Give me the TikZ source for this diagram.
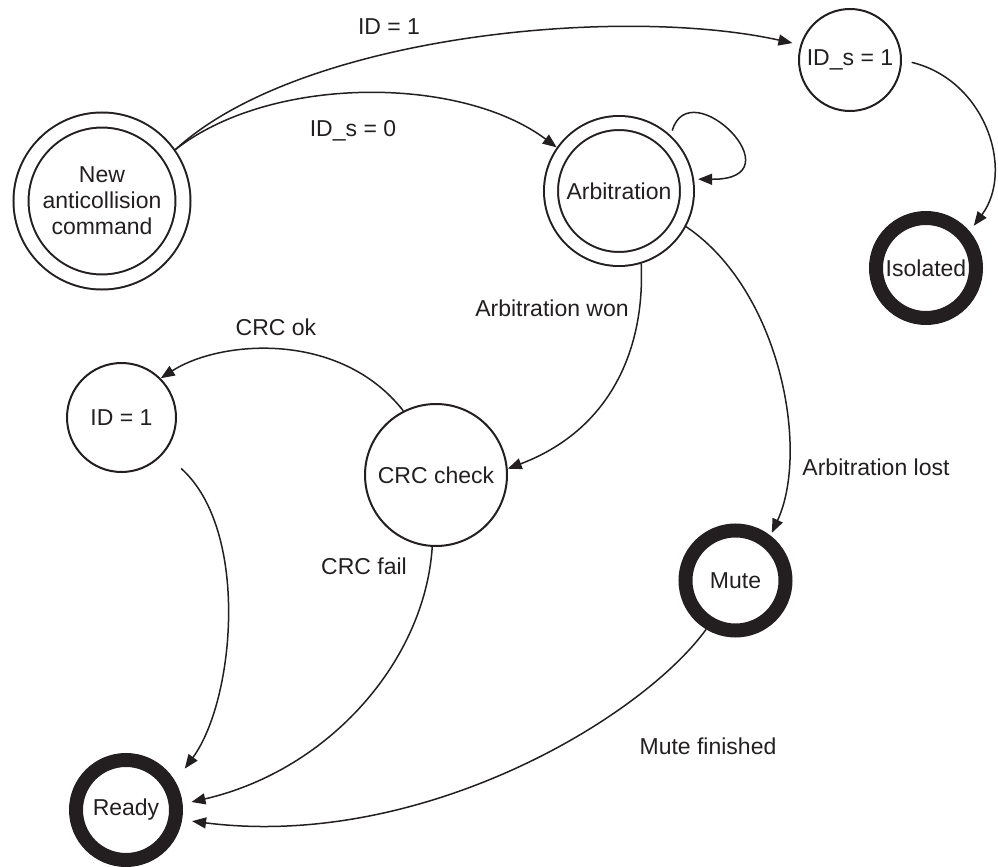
\documentclass[tikz,border=0pt]{standalone}
\usepackage{fontspec}
\setmainfont{Liberation Sans}
\usetikzlibrary{arrows.meta}
\definecolor{ink}{RGB}{35,31,32}
\begin{document}
\begin{tikzpicture}[x=0.5pt,y=-0.5pt,
  every node/.style={font=\fontsize{11.5}{13}\selectfont, text=ink},
  stnode/.style={circle, draw=ink, line width=1pt, inner sep=0pt, outer sep=0.5pt, align=center},
  dblstate/.style={stnode, double, double distance=6.5pt, outer sep=4.25pt},
  finalstate/.style={circle, draw=ink, line width=7pt, inner sep=0pt, outer sep=3.5pt, minimum size=50pt},
  conn/.style={draw=ink, line width=0.75pt, -{Triangle[length=7pt,width=5.5pt]}},
  lbl/.style={inner sep=0pt}]
\useasboundingbox (0,0) rectangle (998,867);

% states
\node[dblstate, minimum size=81pt] (new) at (102,201) {New\\anticollision\\command};
\node[dblstate, minimum size=68pt, double distance=6pt, outer sep=4pt] (arb) at (619,191) {Arbitration};
\node[stnode, minimum size=51pt] (ids) at (850,60) {ID\_s = 1};
\node[finalstate] (iso) at (926,268) {Isolated};
\node[stnode, minimum size=54.5pt] (idone) at (121.5,417.5) {ID = 1};
\node[stnode, minimum size=71pt] (crc) at (436,475) {CRC check};
\node[finalstate] (mute) at (735.5,580.5) {Mute};
\node[finalstate] (ready) at (126,810) {Ready};

% connectors
\draw[conn, shorten >=4pt] (new.35) .. controls (300,35) and (620,5) .. (ids.163);
\draw[conn] (new.35) .. controls (270,75) and (460,75) .. (arb.145);
\draw[conn, shorten <=2.5pt, shorten >=2pt] (arb.47) .. controls (690,70) and (800,180) .. (arb.9);
\draw[conn, shorten <=5pt, shorten >=3.5pt] (ids.0) .. controls (985,80) and (1015,170) .. (iso.40);
\draw[conn] (arb.-73) .. controls (645,350) and (610,430) .. (crc.5);
\draw[conn, shorten >=1.5pt] (arb.-28) .. controls (780,290) and (810,450) .. (mute.52);
\draw[conn] (crc.117) .. controls (340,330) and (220,340) .. (idone.45);
\draw[conn, shorten <=11.5pt, shorten >=8pt] (idone.-40) .. controls (250,530) and (235,700) .. (ready.30);
\draw[conn, shorten >=4.5pt] (crc.-93) .. controls (425,660) and (330,770) .. (ready.6);
\draw[conn, shorten >=5pt] (mute.-121) .. controls (640,720) and (420,850) .. (ready.-10);

% labels
\node[lbl] (t1) at (389,27) {ID = 1};
\node[lbl] (t2) at (353,131) {ID\_s = 0};
\node[lbl] (t3) at (552,308) {Arbitration won};
\node[lbl] (t4) at (876,467) {Arbitration lost};
\node[lbl] (t5) at (276,327) {CRC ok};
\node[lbl] (t6) at (364,566) {CRC fail};
\node[lbl] (t7) at (708,746) {Mute finished};
\end{tikzpicture}
\end{document}
